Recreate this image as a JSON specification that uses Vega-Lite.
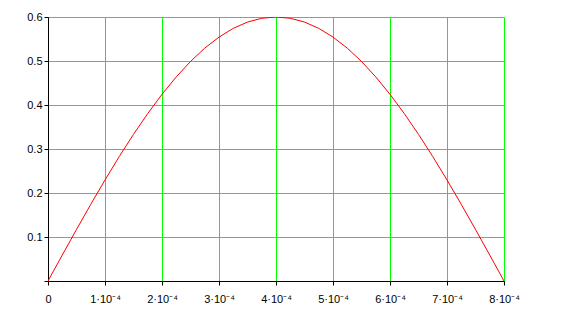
{
  "$schema": "https://vega.github.io/schema/vega-lite/v6.json",
  "width": 456,
  "height": 264,
  "autosize": {"type": "none"},
  "padding": {"left": 48, "top": 17, "right": 58, "bottom": 40},
  "background": "white",
  "view": {"stroke": null},
  "data": {
    "values": [
      {"x": 0.0, "y": 0.0},
      {"x": 0.000025, "y": 0.0588},
      {"x": 0.00005, "y": 0.1171},
      {"x": 0.000075, "y": 0.1742},
      {"x": 0.0001, "y": 0.2296},
      {"x": 0.000125, "y": 0.2828},
      {"x": 0.00015, "y": 0.3333},
      {"x": 0.000175, "y": 0.3806},
      {"x": 0.0002, "y": 0.4243},
      {"x": 0.000225, "y": 0.4638},
      {"x": 0.00025, "y": 0.4989},
      {"x": 0.000275, "y": 0.5292},
      {"x": 0.0003, "y": 0.5543},
      {"x": 0.000325, "y": 0.5742},
      {"x": 0.00035, "y": 0.5885},
      {"x": 0.000375, "y": 0.5971},
      {"x": 0.0004, "y": 0.6},
      {"x": 0.000425, "y": 0.5971},
      {"x": 0.00045, "y": 0.5885},
      {"x": 0.000475, "y": 0.5742},
      {"x": 0.0005, "y": 0.5543},
      {"x": 0.000525, "y": 0.5292},
      {"x": 0.00055, "y": 0.4989},
      {"x": 0.000575, "y": 0.4638},
      {"x": 0.0006, "y": 0.4243},
      {"x": 0.000625, "y": 0.3806},
      {"x": 0.00065, "y": 0.3333},
      {"x": 0.000675, "y": 0.2828},
      {"x": 0.0007, "y": 0.2296},
      {"x": 0.000725, "y": 0.1742},
      {"x": 0.00075, "y": 0.1171},
      {"x": 0.000775, "y": 0.0588},
      {"x": 0.0008, "y": 0.0}
    ]
  },
  "mark": {"type": "line", "color": "#ff0000", "strokeWidth": 1, "clip": true},
  "encoding": {
    "x": {
      "field": "x",
      "type": "quantitative",
      "scale": {"domain": [0, 0.0008], "nice": false, "zero": false},
      "axis": {
        "title": null,
        "values": [0, 0.0001, 0.0002, 0.0003, 0.0004, 0.0005, 0.0006, 0.0007, 0.0008],
        "labelExpr": "datum.value == 0 ? '0' : round(datum.value * 10000) + '·10⁻⁴'",
        "grid": true,
        "gridColor": "#00ff00",
        "gridOpacity": 1,
        "gridWidth": 1,
        "domainColor": "#000000",
        "domainWidth": 1,
        "tickColor": "#000000",
        "tickSize": 4,
        "labelFont": "Liberation Sans",
        "labelFontSize": 11,
        "labelColor": "#000000",
        "labelPadding": 8,
        "labelFlush": false,
        "labelOverlap": false
      }
    },
    "y": {
      "field": "y",
      "type": "quantitative",
      "scale": {"domain": [0, 0.6], "nice": false},
      "axis": {
        "title": null,
        "values": [0, 0.1, 0.2, 0.3, 0.4, 0.5, 0.6],
        "labelExpr": "datum.value == 0 ? '' : format(datum.value, '.1f')",
        "grid": true,
        "gridColor": "#00ff00",
        "gridOpacity": 1,
        "gridWidth": 1,
        "domainColor": "#000000",
        "domainWidth": 1,
        "tickColor": "#000000",
        "tickSize": 4,
        "labelFont": "Liberation Sans",
        "labelFontSize": 11,
        "labelColor": "#000000",
        "labelPadding": 2,
        "labelFlush": false,
        "labelOverlap": false
      }
    }
  }
}
